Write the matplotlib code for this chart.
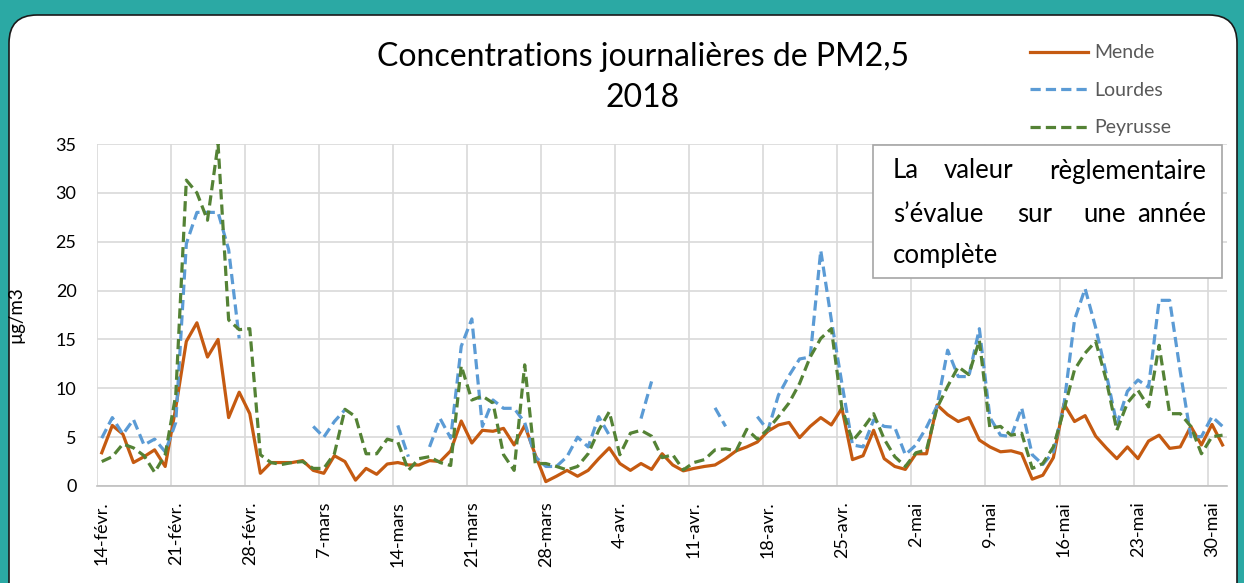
import numpy as np
import matplotlib
matplotlib.use("Agg")
import matplotlib.pyplot as plt
from matplotlib.patches import FancyBboxPatch, Rectangle

plt.rcParams['font.family'] = ['Lato', 'DejaVu Sans']

nan = np.nan

# one value per day, 14 Feb -> 31 May 2018
mende = [3.4, 6.2, 5.3, 2.4, 3.0, 3.7, 2.0, 8.0, 14.8, 16.7, 13.2, 15.0, 7.0, 9.6, 7.4,
         1.3, 2.4, 2.4, 2.4, 2.6, 1.6, 1.3, 3.1, 2.5, 0.6, 1.8, 1.2, 2.25, 2.4, 2.15,
         2.15, 2.6, 2.5, 3.6, 6.65, 4.4, 5.7, 5.6, 5.9, 4.2, 6.2, 3.2, 0.45, 1.0, 1.6,
         1.0, 1.6, 2.8, 3.9, 2.3, 1.6, 2.3, 1.7, 3.3, 2.15, 1.55, 1.8, 2.0, 2.15, 2.8,
         3.6, 4.0, 4.5, 5.6, 6.25, 6.5, 4.95, 6.1, 7.0, 6.25, 7.95, 2.7, 3.1, 5.7, 2.8,
         2.0, 1.7, 3.3, 3.3, 8.3, 7.3, 6.6, 7.0, 4.7, 4.0, 3.5, 3.6, 3.3, 0.7, 1.1,
         2.9, 8.4, 6.6, 7.2, 5.1, 3.9, 2.8, 4.0, 2.8, 4.6, 5.2, 3.85, 4.0, 6.1, 4.2,
         6.3, 4.2]

lourdes = [4.9, 7.0, 5.3, 6.8, 4.2, 4.8, 3.5, 6.5, 24.8, 28.0, 28.0, 28.0, 24.2, 15.1, nan,
           nan, nan, nan, nan, nan, 6.1, 5.0, 6.6, 7.8, nan, nan, nan, nan, 6.2, 3.0,
           nan, 4.0, 6.9, 4.9, 14.3, 17.1, 6.1, 8.8, 7.95, 7.95, 6.5, 3.0, 2.0, 2.0, 3.0,
           5.0, 4.0, 7.1, 5.2, nan, nan, 6.9, 10.7, nan, nan, nan, nan, nan, 8.0, 6.1,
           nan, nan, 7.1, 5.7, 9.3, 11.3, 13.0, 13.2, 24.1, 17.0, 10.5, 4.2, 4.0, 6.75, 6.1,
           6.0, 3.2, 4.2, 6.0, 8.2, 13.9, 11.2, 11.2, 16.1, 7.0, 5.2, 5.05, 8.0, 3.2, 2.2,
           3.5, 8.3, 17.0, 20.2, 16.2, 11.5, 6.3, 9.7, 10.85, 10.1, 19.0, 19.0, 11.7, 5.05, 5.05,
           7.1, 6.1]

peyrusse = [2.5, 3.0, 4.3, 3.9, 3.1, 1.4, 3.2, 9.3, 31.3, 30.0, 27.2, 35.0, 17.0, 16.0, 16.1,
            3.2, 2.4, 2.2, 2.4, 2.5, 1.8, 1.8, 3.3, 7.85, 7.1, 3.3, 3.3, 4.8, 4.5, 1.6,
            2.8, 3.0, 2.4, 2.1, 12.3, 8.8, 9.2, 8.5, 3.2, 1.6, 12.4, 2.3, 2.3, 2.0, 1.65,
            2.0, 3.3, 5.7, 7.6, 3.2, 5.4, 5.7, 5.1, 2.9, 3.2, 1.65, 2.4, 2.7, 3.7, 3.8,
            3.6, 5.8, 4.8, 5.8, 7.1, 8.5, 10.5, 13.2, 15.1, 16.1, 8.0, 4.6, 5.9, 7.4, 4.8,
            3.0, 2.0, 3.4, 3.7, 8.0, 10.2, 12.2, 11.4, 14.9, 5.9, 6.1, 5.2, 5.4, 1.8, 2.3,
            4.0, 7.8, 11.9, 13.6, 14.8, 10.85, 5.7, 8.5, 9.8, 8.1, 14.4, 7.4, 7.4, 6.1, 3.3,
            5.05, 5.2]

tick_labels = ["14-févr.", "21-févr.", "28-févr.", "7-mars", "14-mars", "21-mars",
               "28-mars", "4-avr.", "11-avr.", "18-avr.", "25-avr.", "2-mai", "9-mai",
               "16-mai", "23-mai", "30-mai"]

W, H = 1244, 583
fig = plt.figure(figsize=(W / 100, H / 100), dpi=100)
fig.patch.set_facecolor('#2ba9a4')

# background panel (pixel coordinates)
bg = fig.add_axes([0, 0, 1, 1], zorder=0)
bg.set_xlim(0, W)
bg.set_ylim(H, 0)
bg.axis('off')
bg.add_patch(FancyBboxPatch((9, 15), 1228, 620, boxstyle="round,pad=0,rounding_size=28",
                            facecolor='white', edgecolor='#1a1a1a', linewidth=1.2))

# main chart
ax = fig.add_axes([97.3 / W, (H - 486) / H, (1227 - 97.3) / W, (486 - 144) / H], zorder=1)
ax.patch.set_alpha(0)
x = np.arange(len(mende))
ax.plot(x, mende, color='#c55a11', lw=2.3, label='Mende')
ax.plot(x, lourdes, color='#5b9bd5', lw=2.3, dashes=(3.2, 1.6), label='Lourdes')
ax.plot(x, peyrusse, color='#548235', lw=2.3, dashes=(3.2, 1.6), label='Peyrusse')

ax.set_xlim(-0.42, 106.42)
ax.set_ylim(0, 35)
ax.set_yticks(np.arange(0, 36, 5))
ax.set_xticks(np.arange(0, 7 * len(tick_labels), 7))
ax.set_xticklabels(tick_labels, rotation=90, fontsize=13)
ax.set_xticks(np.arange(0, 7 * len(tick_labels), 7) - 0.42, minor=True)
ax.tick_params(axis='both', which='both', length=0)
ax.tick_params(axis='x', pad=11)
ax.tick_params(axis='y', pad=15, labelsize=13)
ax.grid(axis='y', which='major', color='#d9d9d9', lw=1.2)
ax.grid(axis='x', which='minor', color='#d9d9d9', lw=1.2)
ax.grid(axis='x', which='major', visible=False)
ax.set_axisbelow(True)
for s in ['top', 'right', 'left']:
    ax.spines[s].set_visible(False)
ax.spines['bottom'].set_color('#bfbfbf')
ax.spines['bottom'].set_linewidth(1.2)

# overlay: titles, note box, labels
ov = fig.add_axes([0, 0, 1, 1], zorder=3)
ov.set_xlim(0, W)
ov.set_ylim(H, 0)
ov.axis('off')
ov.patch.set_alpha(0)

ov.text(643, 57, "Concentrations journalières de PM2,5", ha='center', va='center', fontsize=23)
ov.text(643, 98, "2018", ha='center', va='center', fontsize=23)
ov.text(16, 315, "µg/m3", rotation=90, ha='center', va='center', fontsize=13.5)

ov.add_patch(Rectangle((873, 145), 349, 133, facecolor='white', edgecolor='#a6a6a6', lw=1.2))
fs = 18.5
ov.text(893, 171, "La", ha='left', va='center', fontsize=fs)
ov.text(944, 171, "valeur", ha='left', va='center', fontsize=fs)
ov.text(1206, 171, "règlementaire", ha='right', va='center', fontsize=fs)
ov.text(893, 214, "s’évalue", ha='left', va='center', fontsize=fs)
ov.text(1017, 214, "sur", ha='left', va='center', fontsize=fs)
ov.text(1083, 214, "une", ha='left', va='center', fontsize=fs)
ov.text(1206, 214, "année", ha='right', va='center', fontsize=fs)
ov.text(893, 256, "complète", ha='left', va='center', fontsize=fs)

leg = fig.legend(loc='upper left', bbox_to_anchor=(1012 / W, 1 - 27 / H), frameon=False,
                 fontsize=14, handlelength=3.0, handletextpad=0.35, labelspacing=1.05,
                 labelcolor='#595959')

fig.savefig('out.png', dpi=100, facecolor=fig.get_facecolor())
